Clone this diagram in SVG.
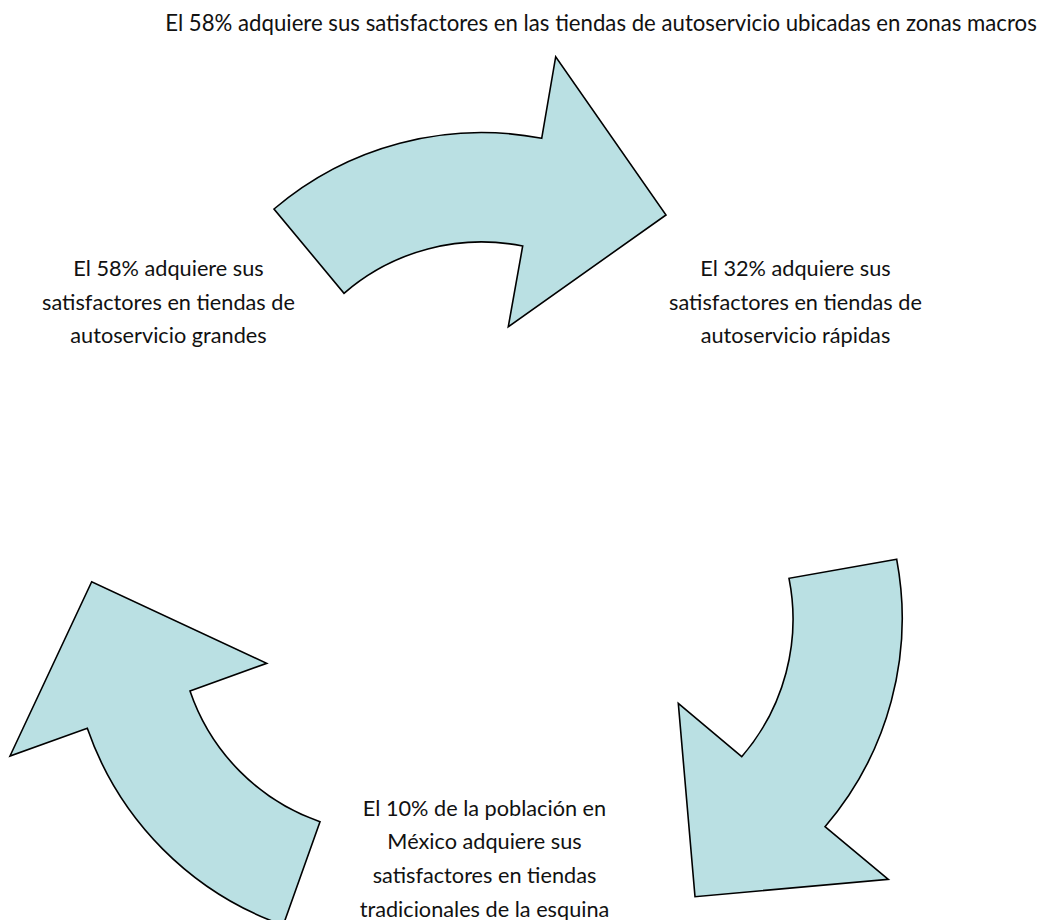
<svg xmlns="http://www.w3.org/2000/svg" width="1040" height="920" viewBox="0 0 1040 920">
  <style>
    .arrow { fill: #BAE0E3; stroke: #000000; stroke-width: 1.6; stroke-linejoin: miter; }
    .lbl { font-family: "Lato", "Liberation Sans", sans-serif; font-size: 21.7px; fill: #111111; text-anchor: middle; }
    .head { font-size: 22.2px; }
  </style>
  <rect width="1040" height="920" fill="#FFFFFF"/>
  <g id="connectors">
    <path id="arrow-top" class="arrow" d="M274,209 A320,320 0 0 1 541.7,138.3 L555.7,56.7 L666,215 L508.3,326.7 L522.7,246 A210,210 0 0 0 344,293.3 Z"/>
    <path id="arrow-bottom-right" class="arrow" d="M896.7,559.3 L789,578.3 A210,210 0 0 1 741.7,756.7 L678.3,703.3 L695,896.7 L888.3,879.3 L825,826.7 A320,320 0 0 0 896.7,559.3 Z"/>
    <path id="arrow-bottom-left" class="arrow" d="M320,821.7 A210,210 0 0 1 190,691 L266.7,663.3 L91.7,581.7 L10,756 L87.3,728.3 A320,320 0 0 0 283.2,925.2 Z"/>
  </g>
  <g id="node-top">
    <text class="lbl head" x="601" y="31">El 58% adquiere sus satisfactores en las tiendas de autoservicio ubicadas en zonas macros</text>
  </g>
  <g id="node-left">
    <text class="lbl" x="168.5" y="276">El 58% adquiere sus</text>
    <text class="lbl" x="168.5" y="309.7">satisfactores en tiendas de</text>
    <text class="lbl" x="168.5" y="343.4">autoservicio grandes</text>
  </g>
  <g id="node-right">
    <text class="lbl" x="795.5" y="276">El 32% adquiere sus</text>
    <text class="lbl" x="795.5" y="309.7">satisfactores en tiendas de</text>
    <text class="lbl" x="795.5" y="343.4">autoservicio rápidas</text>
  </g>
  <g id="node-bottom">
    <text class="lbl" x="484.5" y="815.5">El 10% de la población en</text>
    <text class="lbl" x="484.5" y="849.2">México adquiere sus</text>
    <text class="lbl" x="484.5" y="882.9">satisfactores en tiendas</text>
    <text class="lbl" x="484.5" y="916.6">tradicionales de la esquina</text>
  </g>
</svg>
